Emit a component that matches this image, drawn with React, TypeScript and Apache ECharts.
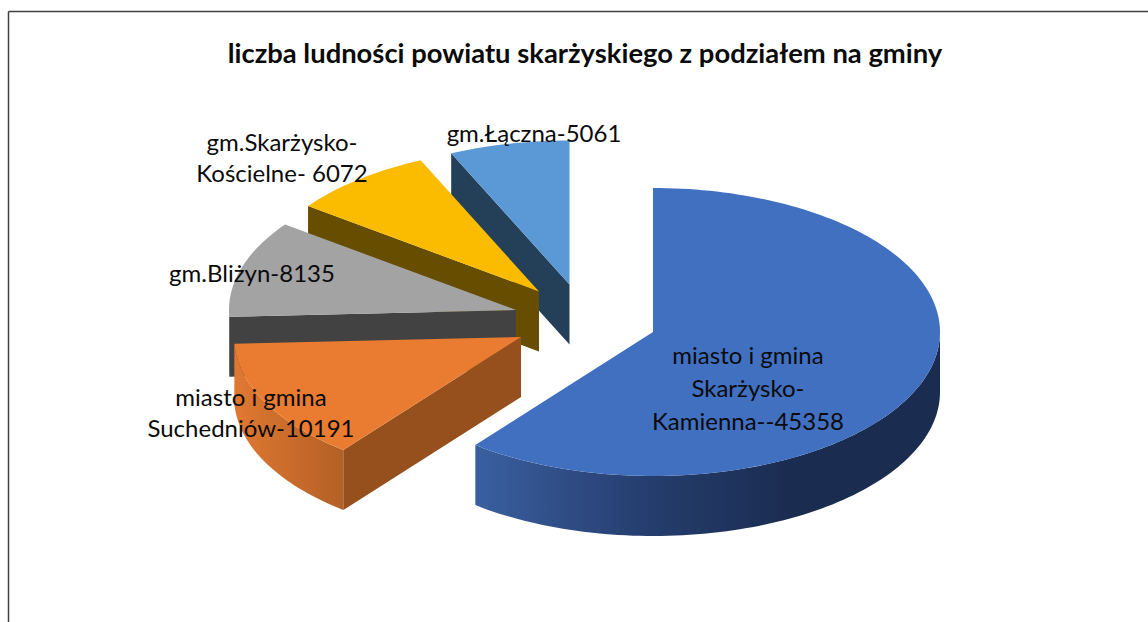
import React, { useEffect, useRef } from "react";
import * as echarts from "echarts";

const titleText = "liczba ludności powiatu skarżyskiego z podziałem na gminy";
const categories = [
  "miasto i gmina\nSkarżysko-\nKamienna--45358",
  "miasto i gmina\nSuchedniów-10191",
  "gm.Bliżyn-8135",
  "gm.Skarżysko-\nKościelne- 6072",
  "gm.Łączna-5061",
];
const values = [45358, 10191, 8135, 6072, 5061];

const topColors = ["#4170C1", "#E97C30", "#A3A3A3", "#FBBC00", "#5A98D6"];
const startWallColors = ["#25406F", "#96501E", "#424242", "#664D00", "#243F58"];
const outerWallStops = [
  [[0, "#3A5FA0"], [0.35, "#263F70"], [0.68, "#1A2C50"], [1, "#1A2C50"]],
  [[0, "#E07831"], [1, "#B46026"]],
  [[0, "#424242"], [1, "#424242"]],
  [[0, "#664D00"], [1, "#664D00"]],
  [[0, "#243F58"], [1, "#243F58"]],
];

// Layout: the exploded centre of each slice, and where each label is centred.
const centres = [[653, 332], [521, 337], [516, 310], [539, 291.5], [569.5, 284.5]];
const labelAnchors = [[748, 387], [251, 412], [252, 272], [282, 157], [534, 132]];
const labelLineHeights = [33, 31, 31, 31, 31];
const RX = 287;
const RY = 144;
const DEPTH = 60;
const FONT = "Lato, Carlito, 'Open Sans', sans-serif";

const total = values.reduce((a, b) => a + b, 0);
const startAngle = (i: number) =>
  (values.slice(0, i).reduce((a, b) => a + b, 0) / total) * Math.PI * 2;

function arc(c: number[], a0: number, a1: number, dy: number) {
  const pts: number[][] = [];
  const n = Math.max(2, Math.ceil(Math.abs(a1 - a0) * 40));
  for (let k = 0; k <= n; k++) {
    const a = a0 + ((a1 - a0) * k) / n;
    pts.push([c[0] + RX * Math.sin(a), c[1] - RY * Math.cos(a) + dy]);
  }
  return pts;
}

function renderSlice(_params: any, api: any) {
  const i = api.value(0) as number;
  const c = centres[i];
  const a0 = startAngle(i);
  const a1 = a0 + (values[i] / total) * Math.PI * 2;
  const children: any[] = [];

  // Rim of the slice that faces the viewer (clock angles 90° to 270°).
  const f0 = Math.max(a0, Math.PI / 2);
  const f1 = Math.min(a1, (Math.PI * 3) / 2);
  if (f1 > f0) {
    const points = arc(c, f0, f1, 0).concat(arc(c, f1, f0, DEPTH));
    children.push({
      type: "polygon",
      shape: { points },
      style: {
        fill: new echarts.graphic.LinearGradient(
          0, 0, 1, 0,
          outerWallStops[i].map((s) => ({ offset: s[0] as number, color: s[1] as string })),
        ),
      },
    });
  }

  // Radial cut at the slice's start, visible on the left half of the pie.
  if (Math.sin(a0) < -1e-6) {
    const p = arc(c, a0, a0, 0)[0];
    children.push({
      type: "polygon",
      shape: { points: [c, p, [p[0], p[1] + DEPTH], [c[0], c[1] + DEPTH]] },
      style: { fill: startWallColors[i] },
    });
  }

  // Top face.
  children.push({
    type: "polygon",
    shape: { points: [c].concat(arc(c, a0, a1, 0)) },
    style: { fill: topColors[i] },
  });

  // Label.
  children.push({
    type: "text",
    style: {
      text: categories[i],
      x: labelAnchors[i][0],
      y: labelAnchors[i][1],
      align: "center",
      verticalAlign: "middle",
      fontFamily: FONT,
      fontSize: 24,
      lineHeight: labelLineHeights[i],
      fill: "#0b0b0b",
    },
  });
  return { type: "group", children };
}

export default function App() {
  const ref = useRef<HTMLDivElement>(null);
  useEffect(() => {
    document.body.style.margin = "0";
    const chart = echarts.init(ref.current!, undefined, { renderer: "svg" });
    chart.setOption({
      animation: false,
      backgroundColor: "#ffffff",
      title: {
        text: titleText,
        left: 580,
        top: 47,
        textAlign: "center",
        textVerticalAlign: "middle",
        textStyle: { fontFamily: FONT, fontSize: 27.4, fontWeight: "bold", color: "#0b0b0b" },
      },
      graphic: [
        { type: "line", shape: { x1: 8.5, y1: 11.5, x2: 1148, y2: 11.5 }, style: { stroke: "#404040", lineWidth: 1.5 } },
        { type: "line", shape: { x1: 8.5, y1: 11.5, x2: 8.5, y2: 622 }, style: { stroke: "#404040", lineWidth: 1.5 } },
      ],
      series: [
        {
          type: "custom",
          coordinateSystem: "none",
          renderItem: renderSlice,
          // Back-to-front: the smallest, rearmost slice is painted first.
          data: values.map((_, i) => [i]).reverse(),
          clip: false,
          silent: true,
        },
      ],
    });
    return () => chart.dispose();
  }, []);
  return <div ref={ref} style={{ width: 1148, height: 622 }} />;
}
